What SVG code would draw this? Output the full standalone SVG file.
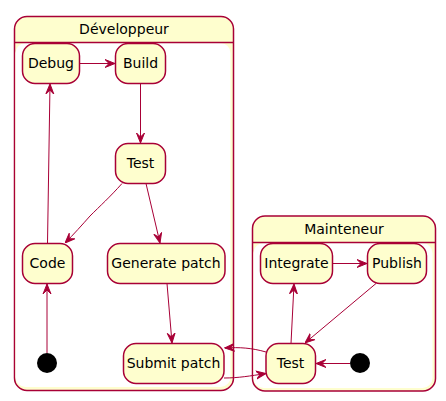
<svg xmlns="http://www.w3.org/2000/svg" width="446" height="401" viewBox="0 0 446 401">
<defs>
<style>
.st{fill:#FEFECE;stroke:#A80036;stroke-width:1.5}
.inner{fill:#FFFFFF;stroke:none}
.t{font-family:"DejaVu Sans",sans-serif;font-size:14px;fill:#000000;text-anchor:middle}
.e{fill:none;stroke:#A80036;stroke-width:1}
.init{fill:#000000}
</style>
<marker id="ah" viewBox="0 0 10 10" refX="10" refY="5" markerWidth="10" markerHeight="10" markerUnits="userSpaceOnUse" orient="auto">
<path d="M0,1 L10,5 L0,9 L4,5 Z" fill="#A80036" stroke="#A80036" stroke-width="1"/>
</marker>
</defs>
<rect width="446" height="401" fill="#FFFFFF"/>
<g id="Developpeur">
<rect class="st" x="14.5" y="16.5" width="219" height="374" rx="12.5"/>
<rect class="inner" x="15.5" y="43" width="215" height="344" rx="10"/>
<line x1="14.5" y1="42.5" x2="233.5" y2="42.5" stroke="#A80036" stroke-width="1.5"/>
<text class="t" x="124" y="34">Développeur</text>
</g>
<g id="Mainteneur">
<rect class="st" x="252.5" y="216" width="183" height="175" rx="12.5"/>
<rect class="inner" x="253.5" y="243" width="179" height="145" rx="10"/>
<line x1="252.5" y1="242.5" x2="435.5" y2="242.5" stroke="#A80036" stroke-width="1.5"/>
<text class="t" x="344" y="234">Mainteneur</text>
</g>
<g id="Debug"><rect class="st" x="22.5" y="43.5" width="57" height="40" rx="12.5"/><text class="t" x="51" y="68">Debug</text></g>
<g id="Build"><rect class="st" x="115.5" y="43.5" width="50" height="40" rx="12.5"/><text class="t" x="140.5" y="68">Build</text></g>
<g id="Test1"><rect class="st" x="115.5" y="143.5" width="50" height="40" rx="12.5"/><text class="t" x="140.5" y="168">Test</text></g>
<g id="Code"><rect class="st" x="22.5" y="243.5" width="50" height="40" rx="12.5"/><text class="t" x="47.5" y="268">Code</text></g>
<g id="GeneratePatch"><rect class="st" x="107.5" y="243.5" width="117.5" height="40" rx="12.5"/><text class="t" x="166" y="268">Generate patch</text></g>
<g id="SubmitPatch"><rect class="st" x="123.5" y="343.5" width="100.5" height="40" rx="12.5"/><text class="t" x="173.5" y="368">Submit patch</text></g>
<g id="Init1"><circle class="init" cx="47" cy="363" r="10"/></g>
<g id="Integrate"><rect class="st" x="260.5" y="243.5" width="72" height="40" rx="12.5"/><text class="t" x="296.5" y="268">Integrate</text></g>
<g id="Publish"><rect class="st" x="367.5" y="243.5" width="59" height="40" rx="12.5"/><text class="t" x="397" y="268">Publish</text></g>
<g id="Test2"><rect class="st" x="266" y="343.5" width="49.5" height="40" rx="12.5"/><text class="t" x="290.5" y="368">Test</text></g>
<g id="Init2"><circle class="init" cx="360" cy="363" r="10"/></g>
<g id="connectors">
<path class="e" marker-end="url(#ah)" d="M79.5,63.5 L115,63.5"/>
<path class="e" marker-end="url(#ah)" d="M140.5,83.5 L140.5,143"/>
<path class="e" marker-end="url(#ah)" d="M47.5,243 L50,84"/>
<path class="e" marker-end="url(#ah)" d="M122,183.5 C110,197 100,206 90,216 C82,225 74,234 65,243"/>
<path class="e" marker-end="url(#ah)" d="M146,183.5 L160,243"/>
<path class="e" marker-end="url(#ah)" d="M47,353 L47,284"/>
<path class="e" marker-end="url(#ah)" d="M167,283.5 L172,343"/>
<path class="e" marker-end="url(#ah)" d="M266,352 C252,348 240,347 224.5,348"/>
<path class="e" marker-end="url(#ah)" d="M224,378 C238,378 250,376 266,373.5"/>
<path class="e" marker-end="url(#ah)" d="M291,343.5 L294,284"/>
<path class="e" marker-end="url(#ah)" d="M332.5,263.5 L367,263.5"/>
<path class="e" marker-end="url(#ah)" d="M376,283.5 L305,343"/>
<path class="e" marker-end="url(#ah)" d="M350,363.5 L316,363.5"/>
</g>
</svg>
